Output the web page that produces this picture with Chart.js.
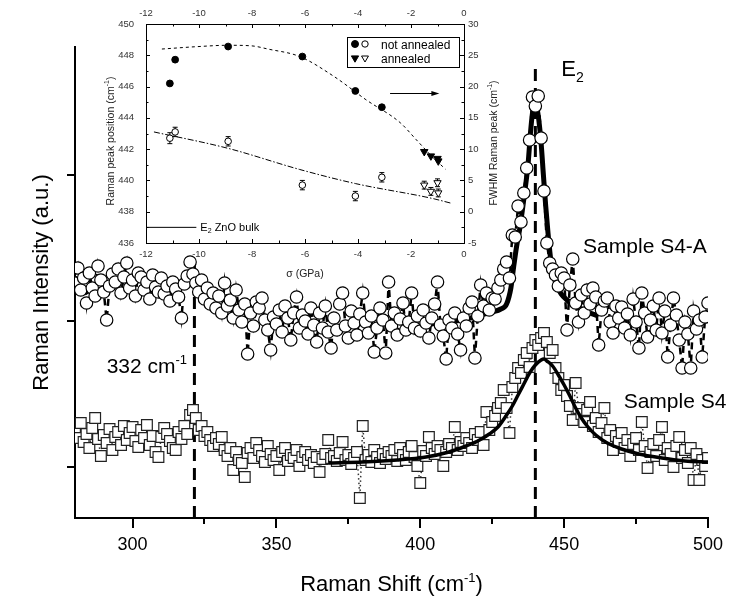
<!DOCTYPE html>
<html><head><meta charset="utf-8">
<script src="https://cdn.jsdelivr.net/npm/chart.js@4.4.1/dist/chart.umd.min.js"></script>
<style>
html,body{margin:0;padding:0;background:#fff;}
#wrap{position:relative;width:729px;height:598px;overflow:hidden;}
#main{position:absolute;left:0;top:0;}
#inset{position:absolute;left:95px;top:0;}
</style></head><body>
<div id="wrap">
<canvas id="main" width="729" height="598" style="width:729px;height:598px"></canvas>
<canvas id="inset" width="415" height="290" style="width:415px;height:290px"></canvas>
</div>
<script>
// ---------------- main spectrum data ----------------
const ramanShift = [
280,281,282,283,284,285,286,287,288,289,290,291,292,293,294,295,296,297,298,299,
300,301,302,303,304,305,306,307,308,309,310,311,312,313,314,315,316,317,318,319,
320,321,322,323,324,325,326,327,328,329,330,331,332,333,334,335,336,337,338,339,
340,341,342,343,344,345,346,347,348,349,350,351,352,353,354,355,356,357,358,359,
360,361,362,363,364,365,366,367,368,369,370,371,372,373,374,375,376,377,378,379,
380,381,382,383,384,385,386,387,388,389,390,391,392,393,394,395,396,397,398,399,
400,401,402,403,404,405,406,407,408,409,410,411,412,413,414,415,416,417,418,419,
420,421,422,423,424,425,426,427,428,429,430,431,432,433,434,435,436,437,438,439,
440,441,442,443,444,445,446,447,448,449,450,451,452,453,454,455,456,457,458,459,
460,461,462,463,464,465,466,467,468,469,470,471,472,473,474,475,476,477,478,479,
480,481,482,483,484,485,486,487,488,489,490,491,492,493,494,495,496,497,498,499,
500];
const intensityS4A = [
235,250,228,240,215,245,230,222,252,238, 226,198,232,244,236,249,225,241,255,230,
238,222,245,241,228,236,219,243,231,226, 240,224,232,217,236,229,221,200,234,242,
256,244,235,226,238,219,230,214,225,210, 222,205,235,212,218,200,228,208,196,214,
164,205,192,216,210,220,198,188,168,201, 194,208,186,212,200,178,205,221,190,203,
197,184,210,193,176,205,190,212,186,170, 200,188,214,225,192,180,207,195,183,204,
225,196,185,202,166,190,210,198,165,236, 192,205,183,199,215,188,196,225,190,202,
187,208,195,180,200,214,236,193,182,159, 198,190,205,184,168,200,192,210,216,160,
202,233,212,225,208,220,219,230,238,249, 256,240,283,281,312,296,325,350,378,421,
412,422,380,327,275,255,249,243,232,245, 240,188,233,259,215,196,223,205,228,214,
230,221,173,208,217,220,196,185,212,200, 211,190,204,183,219,196,170,225,205,181,
198,212,188,220,185,207,161,193,220,203, 178,150,196,184,150,207,189,198,161,201,
215];
const intensityS4 = [
88,80,95,76,84,70,90,100,79,62, 83,75,89,68,81,86,73,92,78,85,
91,77,71,88,80,93,73,82,66,61, 81,90,84,77,70,68,86,79,92,84,
103,108,100,88,92,82,86,78,72,80, 74,81,68,62,70,48,66,58,55,41,
65,70,60,75,68,62,56,72,64,58, 62,48,66,70,57,63,60,68,52,61,
66,58,63,55,61,46,59,64,78,60, 62,57,65,76,58,63,54,60,66,20,
92,58,63,56,68,61,55,64,59,66, 62,68,57,70,63,58,66,72,61,52,
35,67,62,81,70,64,72,68,52,66, 74,70,91,68,76,72,80,75,70,84,
78,86,73,106,88,96,102,110,115,128, 110,85,131,140,150,145,158,165,151,170,
178,173,180,185,176,165,168,150,140,128, 133,122,112,98,135,110,104,96,108,116,
92,100,86,95,110,80,88,68,82,76, 85,70,78,62,74,80,68,96,72,50,
66,74,62,78,91,58,70,64,51,72, 81,60,68,55,70,38,64,38,58,52,
60];
const fitS4AShift = [404,410,416,421,425,428,430,431.5,432.5,433.5,434.5,435.5,436.5,437.5,438.3,439,439.7,440.4,441.2,442,442.8,443.6,444.4,445.2,446,447.5,449,451,453,456,459,462];
const fitS4AIntensity = [194,196,199,203,206,209,214,230,252,272,288,308,330,355,385,405,414,412,398,375,343,312,285,262,246,232,224,218,214,209,205,202];
const fitS4Shift = [368,380,392,402,410,415,420,424,427,430,432,434,436,438,440,442,443,444,446,448,450,452,454,456,458,461,465,470,476,484,492,500];
const fitS4Intensity = [55,56,58,61,66,71,77,84,91,103,112,123,134,145,153,158,159,157,152,143,133,122,110,100,92,83,75,69,64,60,57,56];
const markerShift = [321.5, 440];
const markerTop = [256, 456];
const xTickValues = [300, 350, 400, 450, 500];
const xMinorTicks = [325, 375, 425, 475];
const yTickValues = [51, 197, 343];

// ---------------- inset data ----------------
const sigmaNotAnnealed = [-11.1, -10.9, -8.9, -6.1, -4.1, -3.1];
const fwhmNotAnnealed = [20.5, 24.3, 26.4, 24.8, 19.3, 16.7];
const peakNotAnnealed = [442.7, 443.1, 442.5, 439.7, 439.0, 440.2];
const peakErrNotAnnealed = [0.35, 0.3, 0.3, 0.3, 0.3, 0.3];
const sigmaAnnealed = [-1.5, -1.25, -1.0, -0.97];
const fwhmAnnealed = [9.6, 8.9, 8.5, 8.1];
const peakAnnealed = [439.7, 439.3, 439.85, 439.2];
const peakErrAnnealed = [0.25, 0.25, 0.25, 0.25];
const fwhmFitSigma = [-11.4, -10, -8.9, -8, -7.4, -6.2, -4.9, -3.7, -2.4, -1.8, -1.2, -0.7];
const fwhmFitValue = [26.0, 26.4, 26.6, 26.5, 26.0, 24.8, 21.6, 17.9, 14.2, 11.5, 8.8, 6.8];
const peakFitSigma = [-11.7, -8.9, -6.2, -4.1, -1.2, -0.5];
const peakFitValue = [443.1, 442.05, 440.7, 439.8, 438.85, 438.55];
const bulkE2Sigma = [-12, -10.1];
const bulkE2Peak = [437, 437];
const arrowSigma = [-2.79, -0.93];
const arrowFwhm = 19;
const insetSigmaTicks = [-12, -10, -8, -6, -4, -2, 0];
const insetPeakTicks = [436, 438, 440, 442, 444, 446, 448, 450];
const insetFwhmTicks = [-5, 0, 5, 10, 15, 20, 25, 30];

// ---------------- helpers ----------------
const FONT = '"Liberation Sans", Arial, Helvetica, sans-serif';
const pts = (xs, ys) => xs.map((v, i) => ({x: v, y: ys[i]}));
function drawParts(ctx, parts, x, y, align) {
  let total = 0;
  for (const p of parts) { ctx.font = p.size + 'px ' + FONT; p.w = ctx.measureText(p.text).width; total += p.w; }
  let cx = align === 'center' ? x - total / 2 : (align === 'right' ? x - total : x);
  ctx.textAlign = 'left'; ctx.textBaseline = 'alphabetic';
  for (const p of parts) { ctx.font = p.size + 'px ' + FONT; ctx.fillText(p.text, cx, y + (p.dy || 0)); cx += p.w; }
}
function seg(ctx, x1, y1, x2, y2) { ctx.beginPath(); ctx.moveTo(x1, y1); ctx.lineTo(x2, y2); ctx.stroke(); }

// ---------------- main chart ----------------
const mainDecor = {
  id: 'mainDecor',
  afterDraw(chart) {
    const {ctx, chartArea: a, scales: {x, y}} = chart;
    ctx.save();
    ctx.strokeStyle = '#000'; ctx.lineWidth = 2;
    for (const v of xMinorTicks) { const px = Math.round(x.getPixelForValue(v)); seg(ctx, px, a.bottom, px, a.bottom + 6); }
    ctx.fillStyle = '#000';
    drawParts(ctx, [{text: 'Raman Shift (cm', size: 22}, {text: '-1', size: 13, dy: -9}, {text: ')', size: 22}], (a.left + a.right) / 2, 591, 'center');
    drawParts(ctx, [{text: 'E', size: 22}, {text: '2', size: 14, dy: 6}], x.getPixelForValue(449.0), y.getPixelForValue(450) + 8, 'left');
    drawParts(ctx, [{text: '332 cm', size: 21}, {text: '-1', size: 13, dy: -9}], x.getPixelForValue(291), y.getPixelForValue(153) + 8, 'left');
    drawParts(ctx, [{text: 'Sample S4-A', size: 21}], x.getPixelForValue(456.6), y.getPixelForValue(273) + 8, 'left');
    drawParts(ctx, [{text: 'Sample S4', size: 21}], x.getPixelForValue(470.7), y.getPixelForValue(118) + 8, 'left');
    ctx.translate(40, (a.top + a.bottom) / 2); ctx.rotate(-Math.PI / 2);
    drawParts(ctx, [{text: 'Raman Intensity (a.u.)', size: 22}], 0, 8, 'center');
    ctx.restore();
  }
};

new Chart(document.getElementById('main'), {
  type: 'scatter',
  data: {datasets: [
    {label: 'S4 fit', data: pts(fitS4Shift, fitS4Intensity), showLine: true, borderColor: '#000', borderWidth: 3.5,
     pointRadius: 0, cubicInterpolationMode: 'monotone', order: 0},
    {label: 'Sample S4', data: pts(ramanShift, intensityS4), showLine: true, borderColor: '#333', borderWidth: 1.5,
     borderDash: [1.5, 3], pointStyle: 'rect', pointRadius: 7.6, pointBorderColor: '#222', pointBackgroundColor: '#fff',
     pointBorderWidth: 1.2, order: 1},
    {label: 'Sample S4-A', data: pts(ramanShift, intensityS4A), showLine: true, borderColor: '#000', borderWidth: 2.5,
     borderDash: [7, 5], pointStyle: 'circle', pointRadius: 6.2, pointBorderColor: '#000', pointBackgroundColor: '#fff',
     pointBorderWidth: 1.2, order: 2},
    {label: 'S4-A fit', data: pts(fitS4AShift, fitS4AIntensity), showLine: true, borderColor: '#000', borderWidth: 5,
     pointRadius: 0, cubicInterpolationMode: 'monotone', order: 3},
    {label: '332 line', data: [{x: markerShift[0], y: 0}, {x: markerShift[0], y: markerTop[0]}], showLine: true,
     borderColor: '#000', borderWidth: 3, borderDash: [12, 7], pointRadius: 0, order: 4},
    {label: 'E2 line', data: [{x: markerShift[1], y: 0}, {x: markerShift[1], y: markerTop[1]}], showLine: true,
     borderColor: '#000', borderWidth: 3, borderDash: [12, 7], pointRadius: 0, order: 4}
  ]},
  options: {
    responsive: false, animation: false, devicePixelRatio: 1,
    layout: {padding: {left: 0, right: 16, top: 47, bottom: 0}},
    plugins: {legend: {display: false}, tooltip: {enabled: false}},
    scales: {
      x: {type: 'linear', min: 280, max: 500,
          afterBuildTicks: s => { s.ticks = xTickValues.map(v => ({value: v})); },
          afterFit: s => { s.height = 80; },
          grid: {drawOnChartArea: false, drawTicks: true, tickLength: 10, color: '#000', lineWidth: 2},
          border: {display: true, color: '#000', width: 2},
          ticks: {font: {size: 18, family: FONT}, color: '#000', padding: 6, maxRotation: 0, autoSkip: false}},
      y: {type: 'linear', min: 0, max: 471,
          afterBuildTicks: s => { s.ticks = yTickValues.map(v => ({value: v})); },
          afterFit: s => { s.width = 75; },
          grid: {drawOnChartArea: false, drawTicks: true, tickLength: 8, color: '#000', lineWidth: 2},
          border: {display: true, color: '#000', width: 2},
          ticks: {callback: () => '', padding: 0}}
    }
  },
  plugins: [mainDecor]
});

// ---------------- inset chart ----------------
const insetDecor = {
  id: 'insetDecor',
  beforeDraw(chart) {
    const {ctx, chartArea: a} = chart;
    ctx.save(); ctx.fillStyle = '#fff'; ctx.fillRect(a.left, a.top, a.right - a.left, a.bottom - a.top); ctx.restore();
  },
  beforeDatasetsDraw(chart) {
    const {ctx, scales: {x, y}} = chart;
    ctx.save(); ctx.strokeStyle = '#000'; ctx.lineWidth = 1;
    const bars = (sx, sv, se) => sx.forEach((s, i) => {
      const px = x.getPixelForValue(s), p1 = y.getPixelForValue(sv[i] - se[i]), p2 = y.getPixelForValue(sv[i] + se[i]);
      seg(ctx, px, p1, px, p2); seg(ctx, px - 2.5, p1, px + 2.5, p1); seg(ctx, px - 2.5, p2, px + 2.5, p2);
    });
    bars(sigmaNotAnnealed, peakNotAnnealed, peakErrNotAnnealed);
    bars(sigmaAnnealed, peakAnnealed, peakErrAnnealed);
    ctx.restore();
  },
  afterDatasetsDraw(chart) {
    const {ctx, chartArea: a, scales: {x, y, y2}} = chart;
    ctx.save(); ctx.strokeStyle = '#000'; ctx.fillStyle = '#000'; ctx.lineWidth = 1;
    for (let i = 0; i < insetSigmaTicks.length; i++) {
      const v = insetSigmaTicks[i];
      const px = Math.round(x.getPixelForValue(v)) + 0.5;
      seg(ctx, px, a.bottom, px, a.bottom - 4); seg(ctx, px, a.top, px, a.top + 4);
      if (i < insetSigmaTicks.length - 1) {
        const pm = Math.round(x.getPixelForValue((v + insetSigmaTicks[i + 1]) / 2)) + 0.5;
        seg(ctx, pm, a.bottom, pm, a.bottom - 2.5); seg(ctx, pm, a.top, pm, a.top + 2.5);
      }
    }
    for (let i = 0; i < insetPeakTicks.length; i++) {
      const v = insetPeakTicks[i];
      const py = Math.round(y.getPixelForValue(v)) + 0.5;
      seg(ctx, a.left, py, a.left + 4, py);
      if (i < insetPeakTicks.length - 1) {
        const pm = Math.round(y.getPixelForValue((v + insetPeakTicks[i + 1]) / 2)) + 0.5;
        seg(ctx, a.left, pm, a.left + 2.5, pm);
      }
    }
    for (let i = 0; i < insetFwhmTicks.length; i++) {
      const v = insetFwhmTicks[i];
      const py = Math.round(y2.getPixelForValue(v)) + 0.5;
      seg(ctx, a.right, py, a.right - 4, py);
      if (i < insetFwhmTicks.length - 1) {
        const pm = Math.round(y2.getPixelForValue((v + insetFwhmTicks[i + 1]) / 2)) + 0.5;
        seg(ctx, a.right, pm, a.right - 2.5, pm);
      }
    }
    const lx = 252, ly = 37, lw = 112, lh = 30;
    ctx.fillStyle = '#fff'; ctx.fillRect(lx, ly, lw, lh);
    ctx.strokeRect(lx + 0.5, ly + 0.5, lw, lh);
    const r1 = ly + 7, r2 = ly + 21;
    ctx.fillStyle = '#000';
    Chart.helpers.drawPoint(ctx, {pointStyle: 'circle', radius: 3.5, borderWidth: 1}, lx + 8, r1);
    ctx.fillStyle = '#fff';
    Chart.helpers.drawPoint(ctx, {pointStyle: 'circle', radius: 3.2, borderWidth: 1}, lx + 18, r1);
    ctx.fillStyle = '#000';
    Chart.helpers.drawPoint(ctx, {pointStyle: 'triangle', rotation: 180, radius: 4.2, borderWidth: 1}, lx + 8, r2);
    ctx.fillStyle = '#fff';
    Chart.helpers.drawPoint(ctx, {pointStyle: 'triangle', rotation: 180, radius: 4, borderWidth: 1}, lx + 18, r2);
    ctx.fillStyle = '#000';
    drawParts(ctx, [{text: 'not annealed', size: 12}], lx + 34, r1 + 4.5, 'left');
    drawParts(ctx, [{text: 'annealed', size: 12}], lx + 34, r2 + 4.5, 'left');
    const ax1 = x.getPixelForValue(arrowSigma[0]), ax2 = x.getPixelForValue(arrowSigma[1]), ay = Math.round(y2.getPixelForValue(arrowFwhm)) + 0.5;
    seg(ctx, ax1, ay, ax2 - 6, ay);
    ctx.beginPath(); ctx.moveTo(ax2, ay); ctx.lineTo(ax2 - 8, ay - 2.5); ctx.lineTo(ax2 - 8, ay + 2.5); ctx.closePath(); ctx.fill();
    drawParts(ctx, [{text: 'E', size: 11}, {text: '2', size: 7, dy: 2}, {text: ' ZnO bulk', size: 11}],
      x.getPixelForValue(bulkE2Sigma[1]) + 4, y.getPixelForValue(bulkE2Peak[0]) + 4, 'left');
    ctx.fillStyle = '#222';
    drawParts(ctx, [{text: '\u03c3 (GPa)', size: 10.5}], (a.left + a.right) / 2, 277, 'center');
    ctx.save(); ctx.translate(15, 141); ctx.rotate(-Math.PI / 2);
    drawParts(ctx, [{text: 'Raman peak position (cm', size: 10.5}, {text: '-1', size: 7, dy: -5}, {text: ')', size: 10.5}], 0, 4, 'center');
    ctx.restore();
    ctx.save(); ctx.translate(398, 143); ctx.rotate(-Math.PI / 2);
    drawParts(ctx, [{text: 'FWHM Raman peak (cm', size: 10.5}, {text: '-1', size: 7, dy: -5}, {text: ')', size: 10.5}], 0, 4, 'center');
    ctx.restore();
    ctx.restore();
  }
};

const tickFont = {size: 9.5, family: FONT};
new Chart(document.getElementById('inset'), {
  type: 'scatter',
  data: {datasets: [
    {label: 'not annealed FWHM', yAxisID: 'y2', data: pts(sigmaNotAnnealed, fwhmNotAnnealed), pointStyle: 'circle',
     pointRadius: 3.4, pointBackgroundColor: '#000', pointBorderColor: '#000', pointBorderWidth: 1, order: 0},
    {label: 'annealed FWHM', yAxisID: 'y2', data: pts(sigmaAnnealed, fwhmAnnealed), pointStyle: 'triangle', rotation: 180,
     pointRadius: 4.3, pointBackgroundColor: '#000', pointBorderColor: '#000', pointBorderWidth: 1, order: 0},
    {label: 'not annealed position', yAxisID: 'y', data: pts(sigmaNotAnnealed, peakNotAnnealed), pointStyle: 'circle',
     pointRadius: 3.3, pointBackgroundColor: '#fff', pointBorderColor: '#000', pointBorderWidth: 1, order: 0},
    {label: 'annealed position', yAxisID: 'y', data: pts(sigmaAnnealed, peakAnnealed), pointStyle: 'triangle', rotation: 180,
     pointRadius: 4.2, pointBackgroundColor: '#fff', pointBorderColor: '#000', pointBorderWidth: 1, order: 0},
    {label: 'FWHM fit', yAxisID: 'y2', data: pts(fwhmFitSigma, fwhmFitValue), showLine: true, borderColor: '#000',
     borderWidth: 1, borderDash: [3, 3], pointRadius: 0, cubicInterpolationMode: 'monotone', order: 5},
    {label: 'position fit', yAxisID: 'y', data: pts(peakFitSigma, peakFitValue), showLine: true, borderColor: '#000',
     borderWidth: 1, borderDash: [6, 2, 1.5, 2], pointRadius: 0, cubicInterpolationMode: 'monotone', order: 5},
    {label: 'E2 ZnO bulk', yAxisID: 'y', data: pts(bulkE2Sigma, bulkE2Peak), showLine: true, borderColor: '#000',
     borderWidth: 1, pointRadius: 0, order: 5}
  ]},
  options: {
    responsive: false, animation: false, devicePixelRatio: 1,
    layout: {padding: 0},
    plugins: {legend: {display: false}, tooltip: {enabled: false}},
    scales: {
      x: {type: 'linear', position: 'bottom', min: -12, max: 0,
          afterBuildTicks: s => { s.ticks = insetSigmaTicks.map(v => ({value: v})); },
          afterFit: s => { s.height = 47; },
          grid: {drawOnChartArea: false, drawTicks: false}, border: {display: true, color: '#000', width: 1},
          ticks: {font: tickFont, color: '#333', padding: 6, maxRotation: 0, autoSkip: false}},
      xTop: {type: 'linear', position: 'top', min: -12, max: 0,
          afterBuildTicks: s => { s.ticks = insetSigmaTicks.map(v => ({value: v})); },
          afterFit: s => { s.height = 24; },
          grid: {drawOnChartArea: false, drawTicks: false}, border: {display: true, color: '#000', width: 1},
          ticks: {font: tickFont, color: '#333', padding: 5, maxRotation: 0, autoSkip: false}},
      y: {type: 'linear', position: 'left', min: 436, max: 450,
          afterBuildTicks: s => { s.ticks = insetPeakTicks.map(v => ({value: v})); },
          afterFit: s => { s.width = 51; },
          grid: {drawOnChartArea: false, drawTicks: false}, border: {display: true, color: '#000', width: 1},
          ticks: {font: tickFont, color: '#333', padding: 12, autoSkip: false}},
      y2: {type: 'linear', position: 'right', min: -5, max: 30,
          afterBuildTicks: s => { s.ticks = insetFwhmTicks.map(v => ({value: v})); },
          afterFit: s => { s.width = 46; },
          grid: {drawOnChartArea: false, drawTicks: false}, border: {display: true, color: '#000', width: 1},
          ticks: {font: tickFont, color: '#333', padding: 4, autoSkip: false}}
    }
  },
  plugins: [insetDecor]
});
</script>
</body></html>
